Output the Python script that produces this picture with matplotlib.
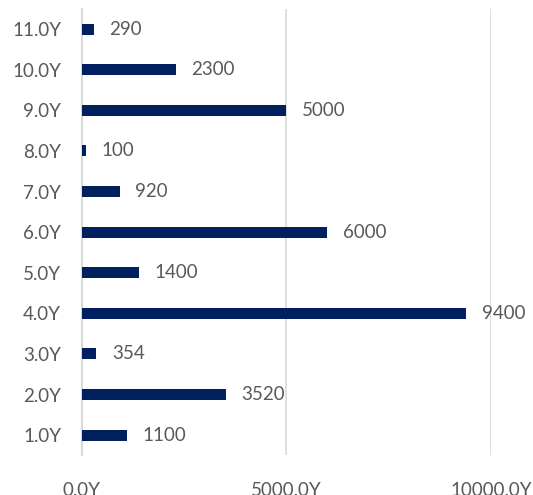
import matplotlib
matplotlib.use('Agg')
import matplotlib.pyplot as plt

categories = ['1.0Y', '2.0Y', '3.0Y', '4.0Y', '5.0Y', '6.0Y', '7.0Y', '8.0Y', '9.0Y', '10.0Y', '11.0Y']
values = [1100, 3520, 354, 9400, 1400, 6000, 920, 100, 5000, 2300, 290]
xticks = [0, 5000, 10000]
xtick_labels = ['0.0Y', '5000.0Y', '10000.0Y']

plt.rcParams['font.family'] = ['Lato', 'DejaVu Sans']
text_color = '#595959'
fs = 13.5

fig = plt.figure(figsize=(5.33, 4.95), dpi=100)
ax = fig.add_axes([0.1538, 0.080, 0.7674, 0.902])

pos = list(range(1, len(categories) + 1))
ax.barh(pos, values, height=0.27, color='#002060', zorder=3)

for p, v in zip(pos, values):
    ax.annotate(str(v), (v, p), xytext=(11, 0), textcoords='offset points',
                va='center', ha='left', fontsize=fs, color=text_color,
                annotation_clip=False, zorder=4)

ax.set_xlim(0, 10000)
ax.set_ylim(0.5, len(categories) + 0.5)
ax.set_yticks(pos)
ax.set_yticklabels(categories, fontsize=fs, color=text_color)
ax.set_xticks(xticks)
ax.set_xticklabels(xtick_labels, fontsize=fs, color=text_color)
ax.tick_params(axis='both', length=0)
ax.tick_params(axis='x', pad=19)
ax.tick_params(axis='y', pad=15)

ax.grid(axis='x', color='#d9d9d9', linewidth=1.2, zorder=0)
for s in ['top', 'right', 'bottom']:
    ax.spines[s].set_visible(False)
ax.spines['left'].set_color('#d9d9d9')
ax.spines['left'].set_linewidth(1.5)

fig.savefig('out.png', dpi=100)
